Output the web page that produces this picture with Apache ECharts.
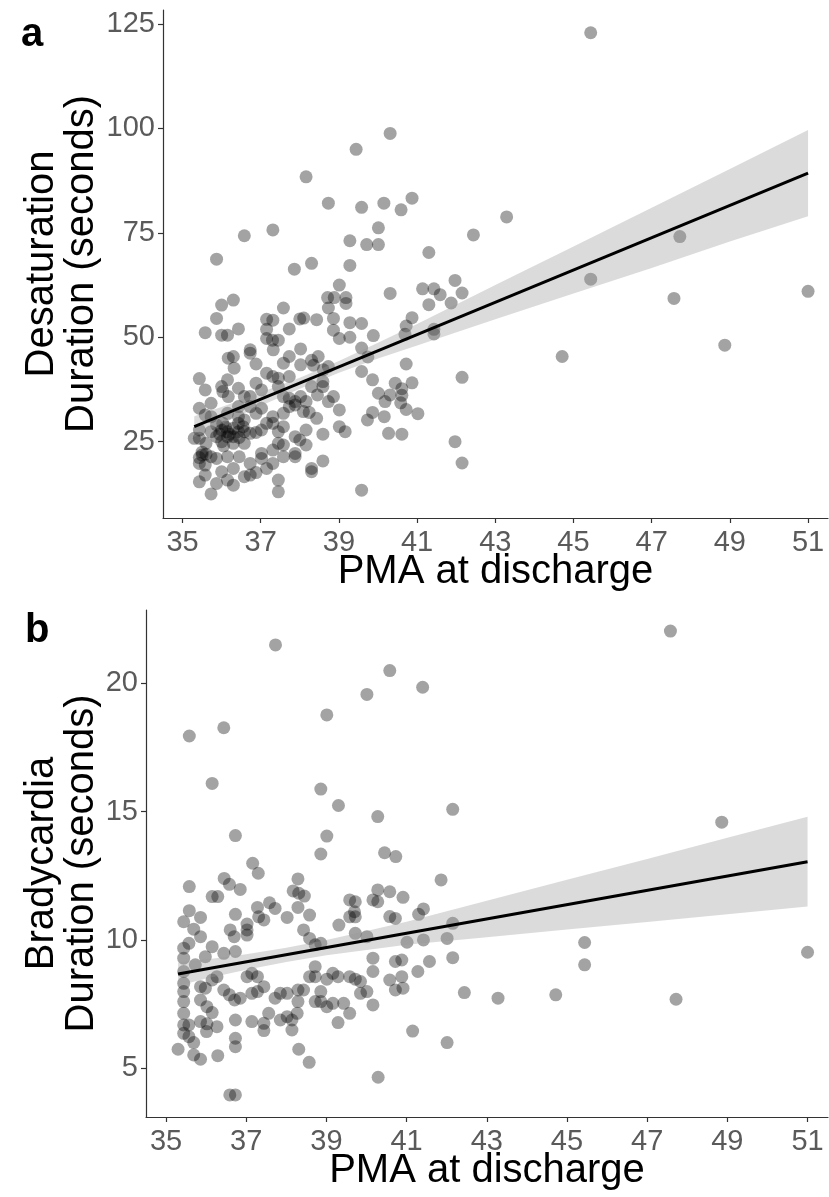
<!DOCTYPE html>
<html>
<head>
<meta charset="utf-8">
<script src="https://cdn.jsdelivr.net/npm/echarts@6/dist/echarts.min.js"></script>
<style>
html,body{margin:0;padding:0;background:#fff;}
#chart{width:829px;height:1197px;}
</style>
</head>
<body>
<div id="chart"></div>
<script>
// ---------- Data ----------
const xTicks = [35, 37, 39, 41, 43, 45, 47, 49, 51];
const yTicksA = [25, 50, 75, 100, 125];
const yTicksB = [5, 10, 15, 20];

// Panel a: PMA at discharge vs desaturation duration (s)
const desatPoints = [
[40.31,98.8],[39.44,95.0],[38.16,88.4],[38.73,82.1],[39.58,81.1],[40.15,82.1],[40.59,80.5],[40.87,83.3],
[36.58,74.3],[37.31,75.7],[35.87,68.7],[39.28,73.1],[39.71,72.2],[40.01,72.2],[40.01,76.2],[37.86,66.3],
[38.30,67.7],[39.28,67.2],[39.01,62.5],[40.31,60.5],
[45.44,122.9],[43.29,78.8],[42.44,74.5],[41.30,70.3],[47.72,74.1],[45.44,63.9],[47.57,59.3],[51.0,61.0],
[48.87,48.1],[44.71,45.4],[41.97,63.6],[41.14,61.6],[41.43,61.6],[41.59,60.2],[42.15,60.6],[41.30,57.8],
[41.87,58.2],[40.87,54.7],[40.72,52.7],[40.69,50.7],[41.43,51.9],[41.43,50.8],[40.72,43.6],[40.87,39.1],
[42.15,40.4],[40.61,37.7],[40.61,36.1],[40.72,32.7],[41.02,31.7],[40.61,26.8],[41.97,25.0],[42.15,19.9],
[38.71,59.5],[38.88,59.5],[39.18,59.5],[38.73,57.0],[39.18,58.1],[37.58,57.0],
[35.87,54.5],[36.0,57.7],[36.3,58.9],[35.58,51.1],[36.0,50.5],[36.15,50.5],[36.43,52.0],
[37.15,54.3],[37.31,54.1],[37.15,51.9],[37.15,49.7],[37.3,49.3],[37.45,49.3],[37.73,52.0],
[38.0,54.4],[38.1,54.6],[38.43,54.2],[38.86,54.5],[38.86,51.7],[39.01,49.7],[39.28,53.5],[39.28,50.0],
[39.58,53.3],[39.88,50.4],[39.58,47.4],[39.74,45.3],
[36.73,47.0],[36.73,46.2],[36.17,45.0],[36.3,45.4],[36.32,42.6],[36.88,43.6],[37.32,47.0],[37.58,43.8],
[37.73,45.4],[38.02,47.2],[38.02,43.4],[38.3,44.5],[38.35,43.3],[38.47,45.4],[38.6,42.2],[38.73,43.0],
[39.58,41.8],[39.86,39.8],[40.01,36.6],[40.18,34.6],[40.31,36.2],[40.44,39.0],[40.58,34.3],[40.27,27.0],
[39.73,30.2],[39.86,32.0],[40.16,31.0],[39.58,13.4],
[35.43,40.1],[35.58,37.4],[35.73,34.2],[35.43,33.0],[35.58,31.4],[36.0,38.2],[36.15,39.8],[36.03,37.0],
[36.17,35.8],[36.43,37.8],[36.58,35.8],[36.73,35.8],[36.88,39.0],[37.02,37.4],[37.15,41.4],[37.31,40.6],
[37.45,38.2],[37.45,40.2],[37.73,40.6],[37.58,35.8],[37.73,35.4],[37.88,34.6],[38.02,35.8],[38.16,34.6],
[38.3,38.2],[38.45,36.2],[38.59,39.4],[38.59,38.2],[38.73,34.6],[38.86,35.8],[39.01,32.6],[38.09,32.2],
[38.24,32.0],[38.43,30.6],[39.01,28.6],[39.16,27.4],[38.16,27.8],[38.0,25.4],[37.88,26.2],[38.59,26.8],
[38.16,24.2],[37.88,22.2],[37.88,21.4],[38.3,18.6],[38.3,17.8],[38.59,20.4],[37.45,24.6],[37.58,24.2],
[37.58,21.4],[37.31,23.0],[37.31,19.8],[37.45,15.8],[37.45,13.0],[37.15,18.6],[37.02,22.2],[37.02,21.0],
[36.88,17.6],[36.73,17.0],[36.73,19.8],[36.58,16.6],[36.45,21.4],[36.3,18.6],[36.3,14.6],[36.15,15.8],
[36.0,17.8],[35.87,15.0],[35.73,12.5],[35.58,17.0],[35.43,15.4],[35.43,19.8],[35.43,21.2],[35.58,19.4],
[35.73,21.4],[35.87,21.0],[36.15,21.4],[35.6,24.6],[35.3,25.8],[35.43,25.8],[35.43,27.8],
[35.73,27.4],[35.87,26.2],[36.0,27.8],[36.15,27.4],[36.3,28.2],[36.3,26.2],[36.43,27.4],[36.58,27.4],
[36.73,27.0],[36.88,27.2],[37.02,27.8],[37.15,29.4],[37.31,29.4],[37.45,27.4],[37.58,28.6],[36.15,26.2],
[36.3,24.6],[36.58,24.6],[36.0,25.0],[36.43,29.4],[36.58,30.2],
[36.88,31.8],[37.02,33.0],[36.73,33.4],[35.73,31.0],[35.87,29.0],[36.03,29.4],[36.15,31.8],[36.43,33.4],
[36.43,31.0],[37.31,31.0],[37.58,31.8],[37.73,33.4],[37.88,33.8],
[36.2,26.8],[36.45,26.0],[35.95,26.8],[36.1,28.5],[36.55,28.6],[35.5,22.5],[35.6,22.0],[36.05,24.0],[35.5,21.8]
];
// fitted line and 95% band, panel a
const fitA = [[35.3, 28.6], [51.0, 89.3]];
const bandAX  = [35.3, 36, 37, 38, 39, 40, 41, 43, 45, 47, 49, 51];
const bandALo = [26.1, 29.3, 33.6, 37.7, 41.5, 44.9, 48.0, 54.3, 60.5, 66.6, 72.9, 79.0];
const bandAHi = [31.1, 33.3, 36.8, 40.3, 44.3, 48.7, 53.2, 62.5, 71.7, 81.0, 90.3, 99.6];

// Panel b: PMA at discharge vs bradycardia duration (s)
const bradyPoints = [
[37.73,21.5],[40.58,20.5],[40.01,19.57],[41.4,19.85],[39.01,18.77],[35.58,17.95],[36.44,18.27],[36.15,16.1],
[38.86,15.88],[39.30,15.24],[40.28,14.81],[36.73,14.07],[39.01,14.05],[38.86,13.35],[40.45,13.4],[40.73,13.25],
[37.16,12.99],[37.30,12.6],[36.45,12.4],[38.29,12.38],
[47.58,22.04],[42.15,15.09],[48.86,14.59],[41.86,12.34],[40.91,11.66],[41.42,11.21],[41.30,11.0],[42.15,10.65],
[41.01,9.91],[41.42,10.0],[42.01,10.06],[40.88,9.22],[41.57,9.16],[42.15,9.31],[41.28,8.77],[40.88,8.57],
[40.91,8.12],[42.44,7.95],[43.28,7.73],[44.72,7.86],[45.44,9.9],[45.44,9.03],[47.72,7.69],[51.0,9.52],
[41.15,6.45],[42.01,6.0],
[36.58,12.17],[35.58,12.08],[36.85,11.97],[36.15,11.69],[36.29,11.69],[38.17,11.91],[38.31,11.82],[38.45,11.71],
[38.29,11.27],[38.58,10.97],[38.43,10.39],[38.58,10.06],[38.72,9.81],[38.86,9.87],[38.02,10.88],[37.58,11.45],
[37.72,11.23],[37.28,11.27],[37.44,10.78],[37.31,10.9],[37.02,10.62],[37.02,10.39],[37.02,10.19],[36.73,11.0],
[36.6,10.39],[36.7,10.13],[35.86,10.88],[35.69,10.42],[35.58,11.14],[35.44,10.71],[35.44,9.68],[35.57,9.87],
[35.86,10.13],[36.15,9.74],[36.44,9.48],[36.73,9.55],[35.73,9.03],[35.98,9.35],[35.44,9.29],[35.44,8.77],
[35.44,8.31],[35.44,7.99],[35.44,7.6],[35.44,7.14],[35.44,6.69],[35.44,6.36],[35.3,5.74],[35.57,6.23],
[35.69,6.0],[35.69,5.52],[35.86,5.35],[35.57,6.69],[35.86,7.66],[35.98,8.12],[35.86,8.18],[36.15,8.44],
[36.27,8.57],[36.02,7.4],[36.15,7.17],[35.86,6.82],[36.02,6.73],[36.27,6.62],[36.01,6.43],[36.29,5.49],
[36.44,8.05],[36.58,7.86],[36.71,7.66],[36.85,7.73],[37.02,8.57],[37.14,8.7],[37.28,8.57],[37.14,7.92],
[37.28,7.99],[37.44,8.18],[36.73,6.88],[36.73,6.17],[36.73,5.84],[36.59,3.96],[36.73,3.96],[37.14,6.82],
[37.44,6.75],[37.44,6.47],[37.56,7.14],[37.85,6.88],[37.72,7.73],[37.85,7.92],[38.02,7.92],[38.14,6.88],
[38.14,6.49],[38.02,7.01],[38.27,7.14],[38.29,7.6],[38.29,8.05],[38.31,5.74],[38.57,5.23],[38.43,8.05],
[38.58,8.57],[38.72,8.96],[38.72,8.57],[38.72,7.6],[38.86,7.6],[39.01,7.4],[39.16,7.53],[38.86,7.99],
[39.01,8.47],[39.16,8.7],[39.29,8.57],[39.43,7.53],[39.58,7.14],[39.29,6.78],[39.31,10.58],[39.58,11.56],
[39.72,11.49],[39.7,11.1],[39.72,10.9],[39.58,10.9],[39.72,10.26],[40.01,10.13],[39.58,8.57],[39.72,8.47],
[39.85,8.38],[39.85,7.92],[40.01,7.99],[40.16,7.47],[40.16,9.29],[40.16,8.77],[40.16,11.56],[40.28,11.95],
[40.28,11.49],[40.58,11.88],[40.58,10.91],[40.72,10.84],[40.58,8.44],[40.72,9.16],[40.72,8.05],[40.29,4.65]
];
const fitB = [[35.3, 8.67], [51.0, 13.05]];
const bandBX  = [35.3, 36, 37, 38, 39, 40, 41, 43, 45, 47, 49, 51];
const bandBLo = [8.22, 8.50, 8.84, 9.14, 9.40, 9.61, 9.81, 10.11, 10.41, 10.70, 11.00, 11.30];
const bandBHi = [9.12, 9.24, 9.44, 9.70, 10.00, 10.35, 10.71, 11.53, 12.35, 13.16, 13.98, 14.80];

// ---------- Chart ----------
const FONT = 'Liberation Sans, Arial, Helvetica, sans-serif';
const chart = echarts.init(document.getElementById('chart'), null, {renderer: 'canvas'});

function xAxisCfg(grid) {
  return {
    type: 'value', gridIndex: grid, min: 34.5, max: 51.51,
    name: 'PMA at discharge', nameLocation: 'middle', nameGap: 34, nameMoveOverlap: false,
    nameTextStyle: {fontSize: 40, color: '#000', fontFamily: FONT},
    axisLine: {show: true, onZero: false, lineStyle: {color: '#333', width: 1.2}},
    axisTick: {show: true, length: 5, lineStyle: {color: '#333', width: 1.2}, customValues: xTicks},
    axisLabel: {fontSize: 29, color: '#5a5a5a', fontFamily: FONT, margin: 10, customValues: xTicks},
    splitLine: {show: false}
  };
}
function yAxisCfg(grid, min, max, ticks, name, gap) {
  return {
    type: 'value', gridIndex: grid, min: min, max: max,
    name: name, nameLocation: 'middle', nameRotate: 90, nameGap: gap, nameMoveOverlap: false,
    nameTextStyle: {fontSize: 40, color: '#000', fontFamily: FONT, lineHeight: 40},
    axisLine: {show: true, onZero: false, lineStyle: {color: '#333', width: 1.2}},
    axisTick: {show: true, length: 5, lineStyle: {color: '#333', width: 1.2}, customValues: ticks},
    axisLabel: {fontSize: 29, color: '#5a5a5a', fontFamily: FONT, margin: 8, customValues: ticks},
    splitLine: {show: false}
  };
}
function bandSeries(axis, xs, lo, hi) {
  return {
    type: 'custom', xAxisIndex: axis, yAxisIndex: axis, silent: true, z: 3,
    data: xs.map((x, i) => [x, lo[i], hi[i]]),
    encode: {x: 0, y: [1, 2]},
    renderItem: function (params, api) {
      if (params.dataIndex !== 0) return null;
      const pts = [];
      for (let i = 0; i < xs.length; i++) pts.push(api.coord([xs[i], lo[i]]));
      for (let i = xs.length - 1; i >= 0; i--) pts.push(api.coord([xs[i], hi[i]]));
      return {type: 'polygon', shape: {points: pts}, style: {fill: 'rgba(153,153,153,0.35)'}};
    }
  };
}
function scatterSeries(axis, pts) {
  return {
    type: 'scatter', xAxisIndex: axis, yAxisIndex: axis, data: pts, z: 2,
    symbolSize: 13, itemStyle: {color: 'rgba(0,0,0,0.45)'}, emphasis: {disabled: true}, silent: true
  };
}
function lineSeries(axis, pts) {
  return {
    type: 'line', xAxisIndex: axis, yAxisIndex: axis, data: pts, z: 4,
    symbol: 'none', lineStyle: {color: '#000', width: 3}, silent: true
  };
}

chart.setOption({
  animation: false,
  backgroundColor: '#fff',
  textStyle: {fontFamily: FONT},
  title: [
    {text: 'a', left: 16, top: 10, textStyle: {fontSize: 40, fontWeight: 'bold', color: '#000', fontFamily: FONT}},
    {text: 'b', left: 20, top: 606, textStyle: {fontSize: 40, fontWeight: 'bold', color: '#000', fontFamily: FONT}}
  ],
  grid: [
    {left: 163, top: 10, width: 665, height: 508},
    {left: 146, top: 610, width: 682, height: 507}
  ],
  xAxis: [xAxisCfg(0), xAxisCfg(1)],
  yAxis: [
    yAxisCfg(0, 6.73, 128.35, yTicksA, 'Desaturation\nDuration (seconds)', 61),
    yAxisCfg(1, 3.1, 22.86, yTicksB, 'Bradycardia\nDuration (seconds)', 44)
  ],
  series: [
    scatterSeries(0, desatPoints),
    bandSeries(0, bandAX, bandALo, bandAHi),
    lineSeries(0, fitA),
    scatterSeries(1, bradyPoints),
    bandSeries(1, bandBX, bandBLo, bandBHi),
    lineSeries(1, fitB)
  ]
});
</script>
</body>
</html>
